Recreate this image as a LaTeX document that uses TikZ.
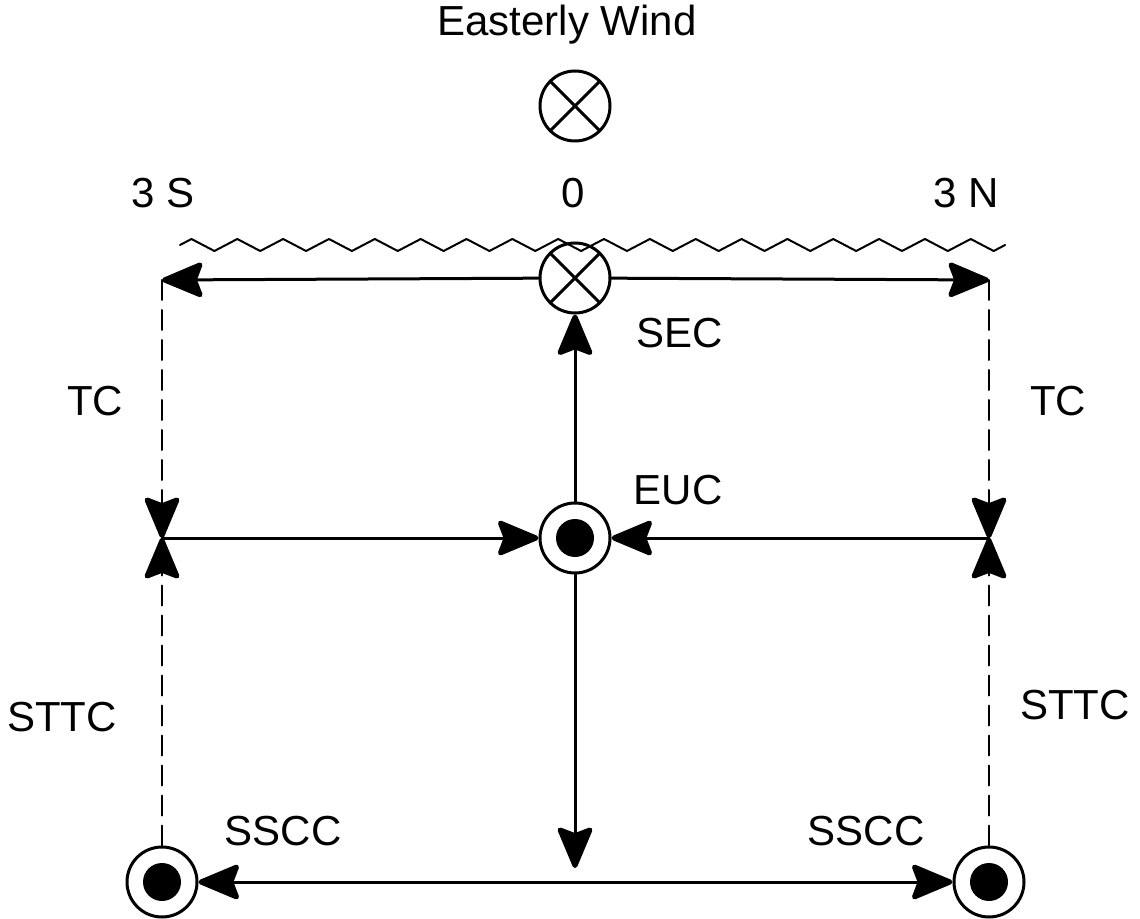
\documentclass[tikz,border=0pt]{standalone}
\usepackage{fontspec}
\setmainfont{Liberation Sans}
\usetikzlibrary{arrows.meta}

\begin{document}
\begin{tikzpicture}[x=0.5pt,y=-0.5pt,line cap=round,line join=round,
  every node/.style={font=\fontsize{21}{25}\selectfont},
  flow/.style={line width=1.5pt,-{Stealth[length=23pt,width=19pt,inset=3.5pt,round,line width=2.5pt]}},
  twoway/.style={line width=1.5pt,{Stealth[length=23pt,width=19pt,inset=3.5pt,round,line width=2.5pt]}-{Stealth[length=23pt,width=19pt,inset=3.5pt,round,line width=2.5pt]}},
  return/.style={flow,line width=1pt,dash pattern=on 10pt off 5pt},
  ring/.style={circle,draw,line width=1.5pt,minimum size=35pt,inner sep=0pt},
  crossed/.style={ring,path picture={
      \draw[line width=1.5pt] (path picture bounding box.south west) -- (path picture bounding box.north east)
                              (path picture bounding box.north west) -- (path picture bounding box.south east);}},
  dotring/.style={ring,path picture={\fill (path picture bounding box.center) circle (9.5pt);}}]

  \useasboundingbox (0,0) rectangle (1140,919);

  %-------------------------
  % Wind and sea surface
  %-------------------------
  \node (windlabel) at (567,25) {Easterly Wind};
  \node[crossed] (wind) at (575,106) {};

  \node (lat3S) at (163,193) {3 S};
  \node (lat0)  at (573,193) {0};
  \node (lat3N) at (966,193) {3 N};

  \draw[line width=1pt] (180,245)
       \foreach \k in {1,...,18} { -- ++(11.46,-6) -- ++(22.92,12) -- ++(11.46,-6) };   % surface

  %-------------------------
  % Currents
  %-------------------------
  \node[crossed] (sec)   at (575,278) {};
  \node[dotring] (euc)   at (575,538) {};
  \node[dotring] (ssccS) at (162,882) {};
  \node[dotring] (ssccN) at (989,882) {};

  \coordinate (tcS)   at (162,280);
  \coordinate (tcN)   at (989,280);
  \coordinate (meetS) at (162,538);
  \coordinate (meetN) at (989,538);
  \coordinate (down)  at (575,868);

  \draw[flow] (sec) -- (tcS);
  \draw[flow] (sec) -- (tcN);
  \draw[flow] (euc) -- (sec);
  \draw[flow] (meetS) -- (euc);
  \draw[flow] (meetN) -- (euc);
  \draw[flow] (euc) -- (down);
  \draw[twoway] (ssccS) -- (ssccN);

  % subsurface return flow
  \draw[return] (tcS) -- (meetS);
  \draw[return] (tcN) -- (meetN);
  \draw[return] (ssccS) -- (meetS);
  \draw[return] (ssccN) -- (meetN);

  %-------------------------
  % Labels
  %-------------------------
  \node (seclabel)   at (680,333) {SEC};
  \node (tcSlabel)   at (95,401) {TC};
  \node (tcNlabel)   at (1058,401) {TC};
  \node (euclabel)   at (678,490) {EUC};
  \node (sttcSlabel) at (62,717) {STTC};
  \node (sttcNlabel) at (1075,705) {STTC};
  \node (ssccSlabel) at (283,831) {SSCC};
  \node (ssccNlabel) at (866,831) {SSCC};

\end{tikzpicture}
\end{document}
